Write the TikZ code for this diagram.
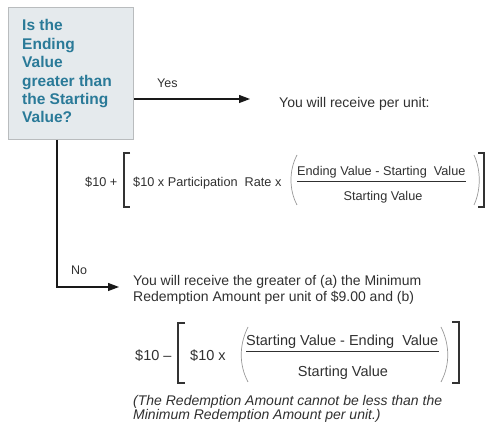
\documentclass[tikz,border=0pt]{standalone}
\usepackage{fontspec}
\setmainfont{Liberation Sans}
\usetikzlibrary{arrows.meta}
\definecolor{boxfill}{RGB}{229,234,237}
\definecolor{boxline}{RGB}{185,188,190}
\definecolor{qblue}{RGB}{42,122,152}
\definecolor{txtgray}{RGB}{48,48,48}
\tikzset{
txt/.style={anchor=base west, inner sep=0pt, text=txtgray, font=\fontsize{14}{16}\selectfont},
lbl/.style={anchor=base west, inner sep=0pt, text=txtgray, font=\fontsize{12.5}{14}\selectfont},
fone/.style={inner sep=0pt, text=txtgray, font=\fontsize{12.7}{14}\selectfont},
ftwo/.style={inner sep=0pt, text=txtgray, font=\fontsize{14.5}{16}\selectfont},
flow/.style={draw=black!90, line width=1.2pt, -{Triangle[length=11pt,width=8pt]}},
sqbr/.style={draw=black!80, line width=1.6pt},
rdbr/.style={draw=black!40, line width=0.7pt},
fbar/.style={draw=txtgray, line width=0.9pt}}

\begin{document}
\begin{tikzpicture}[x=1pt,y=-1pt]
                \useasboundingbox (0,0) rectangle (488,427);

                \node[draw=boxline, fill=boxfill, line width=1pt, anchor=north west, minimum width=125pt, minimum height=132pt, inner sep=0pt] (question) at (8,7) {};
                \node[anchor=north west, inner sep=0pt, align=left, text=qblue, font=\fontsize{15.5}{18.4}\selectfont\bfseries] (qtext) at (22,19.5) {Is the\\Ending\\Value\\greater than\\the Starting\\Value?};

                \coordinate (yesend) at (250,99);
                \coordinate (nocorner) at (57,287);
                \coordinate (noend) at (119,287);
                \draw[flow] (question.east |- yesend) -- (yesend);
                \draw[flow] (question.south -| nocorner) -- (nocorner) -- (noend);
                \node[lbl] (yes) at (157,88) {Yes};
                \node[lbl] (no) at (71,275) {No};

                \node[txt] (perunit) at (279,108) {You will receive per unit:};

                \node[fone, anchor=base west] (plus) at (85,187) {\$10 +};
                \node[fone, anchor=base west] (rate) at (133,187) {\$10 x Participation\ \ Rate x};
                \node[fone, anchor=base west] (numone) at (297,176) {Ending Value - Starting\ \ Value};
                \node[fone, anchor=base] (denone) at (383,201) {Starting Value};
                \draw[fbar] ([yshift=-2.3pt]numone.south west) -- ([yshift=-2.3pt]numone.south east);
                \draw[sqbr] (130,153) -- (124,153) -- (124,207) -- (130,207);
                \draw[rdbr] (297,155) .. controls (289,170) and (289,190) .. (297,205);
                \draw[rdbr] (474,155) .. controls (481,170) and (481,190) .. (474,205);
                \draw[sqbr] (478,153) -- (484,153) -- (484,207) -- (478,207);

                \node[txt] (greater) at (133,286) {You will receive the greater of (a) the Minimum};
                \node[txt] (minimum) at (133,302) {Redemption Amount per unit of \$9.00 and (b)};

                \node[ftwo, anchor=base west] (minus) at (135,361) {\$10 --};
                \node[ftwo, anchor=base west] (times) at (190,361) {\$10 x};
                \node[ftwo, anchor=base west] (numtwo) at (246,346) {Starting Value - Ending\ \ Value};
                \node[ftwo, anchor=base] (dentwo) at (343,377) {Starting Value};
                \draw[fbar] ([yshift=-2.5pt]numtwo.south west) -- ([yshift=-2.5pt]numtwo.south east);
                \draw[sqbr] (185,323) -- (178,323) -- (178,383) -- (185,383);
                \draw[rdbr] (248,327) .. controls (239,345) and (239,365) .. (248,382);
                \draw[rdbr] (441,327) .. controls (450,345) and (450,365) .. (441,382);
                \draw[sqbr] (452,322) -- (459,322) -- (459,383) -- (452,383);

                \node[txt, font=\fontsize{14}{14}\selectfont\itshape] (noteone) at (133,406) {(The Redemption Amount cannot be less than the};
                \node[txt, font=\fontsize{14}{14}\selectfont\itshape] (notetwo) at (133,420) {Minimum Redemption Amount per unit.)};

            \end{tikzpicture}
\end{document}
